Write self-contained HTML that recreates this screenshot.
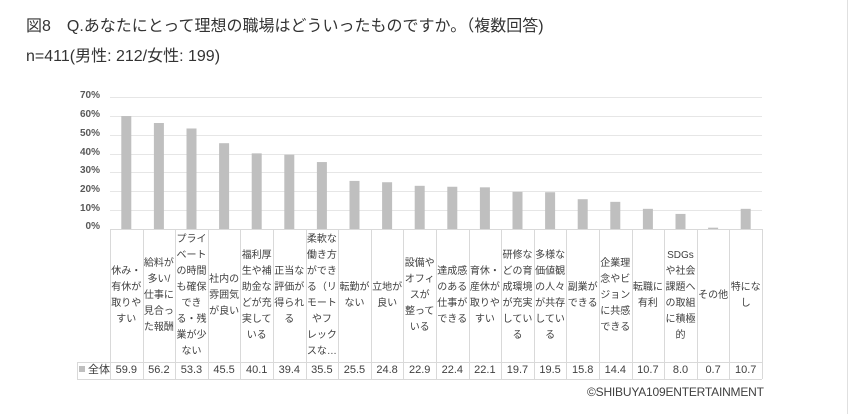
<!DOCTYPE html>
<html><head><meta charset="utf-8"><style>
body{margin:0;width:850px;height:414px;background:#fff;position:relative;overflow:hidden;font-family:"Liberation Sans","Noto Sans CJK JP",sans-serif;}
.t{position:absolute;left:26px;font-size:16px;color:#333;white-space:nowrap}
.lab{position:absolute;top:229px;height:133px;width:32.6px;display:flex;align-items:center;justify-content:center;text-align:center;font-size:10px;line-height:16px;color:#404040;box-sizing:border-box}
.val{position:absolute;top:362px;height:17px;width:32.6px;text-align:center;font-size:11px;line-height:17px;color:#404040}
.yl{position:absolute;left:60px;width:40px;text-align:right;font-size:10px;font-weight:bold;color:#595959}
</style></head><body>
<div class="t" style="top:12px">図8　Q.あなたにとって理想の職場はどういったものですか。（複数回答)</div>
<div class="t" style="top:42px">n=411(男性: 212/女性: 199)</div>
<div style="position:absolute;left:847px;top:0;width:1px;height:414px;background:#e0e0e0"></div>
<svg width="850" height="414" style="position:absolute;left:0;top:0">
<g stroke="#e6e6e6" stroke-width="1">
<line x1="110" x2="762" y1="97.5" y2="97.5"/><line x1="110" x2="762" y1="116.5" y2="116.5"/><line x1="110" x2="762" y1="135.5" y2="135.5"/><line x1="110" x2="762" y1="154.5" y2="154.5"/><line x1="110" x2="762" y1="172.5" y2="172.5"/><line x1="110" x2="762" y1="191.5" y2="191.5"/><line x1="110" x2="762" y1="210.5" y2="210.5"/>
</g>
<g fill="#bfbfbf" id="bars"></g>
<g stroke="#d9d9d9" stroke-width="1" id="grid"></g>
</svg>
<div class="yl" style="top:90px">70%</div><div class="yl" style="top:109px">60%</div><div class="yl" style="top:128px">50%</div><div class="yl" style="top:147px">40%</div><div class="yl" style="top:165px">30%</div><div class="yl" style="top:184px">20%</div><div class="yl" style="top:203px">10%</div><div class="yl" style="top:221px">0%</div>
<div id="c"></div>
<div style="position:absolute;left:79px;top:362px;height:17px;line-height:17px;font-size:11px;color:#404040"><span style="display:inline-block;width:6px;height:6px;background:#bfbfbf;margin-right:3px;vertical-align:1px"></span>全体</div>
<div style="position:absolute;left:587px;top:385px;font-size:12px;letter-spacing:-0.2px;color:#404040">©SHIBUYA109ENTERTAINMENT</div>
<script>
var L=["休み・<br>有休が<br>取りや<br>すい","給料が<br>多い/<br>仕事に<br>見合っ<br>た報酬","プライ<br>ベート<br>の時間<br>も確保<br>でき<br>る・残<br>業が少<br>ない","社内の<br>雰囲気<br>が良い","福利厚<br>生や補<br>助金な<br>どが充<br>実して<br>いる","正当な<br>評価が<br>得られ<br>る","柔軟な<br>働き方<br>ができ<br>る（リ<br>モート<br>やフ<br>レック<br>スな…","転勤が<br>ない","立地が<br>良い","設備や<br>オフィ<br>スが<br>整って<br>いる","達成感<br>のある<br>仕事が<br>できる","育休・<br>産休が<br>取りや<br>すい","研修な<br>どの育<br>成環境<br>が充実<br>してい<br>る","多様な<br>価値観<br>の人々<br>が共存<br>してい<br>る","副業が<br>できる","企業理<br>念やビ<br>ジョン<br>に共感<br>できる","転職に<br>有利","SDGs<br>や社会<br>課題へ<br>の取組<br>に積極<br>的","その他","特にな<br>し"];
var V=[59.9,56.2,53.3,45.5,40.1,39.4,35.5,25.5,24.8,22.9,22.4,22.1,19.7,19.5,15.8,14.4,10.7,8.0,0.7,10.7];
var w=32.6,x0=110,h="",b="",g="";
for(var i=0;i<20;i++){var x=x0+i*w;
h+='<div class="lab" style="left:'+x+'px">'+L[i]+'</div><div class="val" style="left:'+x+'px">'+V[i].toFixed(1)+'</div>';
var bh=V[i]*1.886;b+='<rect x="'+(x+11.3)+'" y="'+(229-bh)+'" width="10" height="'+bh+'"/>';}
for(var i=0;i<=20;i++){var x=Math.round(x0+i*w)+0.5;g+='<line x1="'+x+'" x2="'+x+'" y1="229" y2="379"/>';}
g+='<line x1="110" x2="762" y1="229.5" y2="229.5"/><line x1="77" x2="762" y1="362.5" y2="362.5"/><line x1="77" x2="762" y1="379.5" y2="379.5"/><line x1="77.5" x2="77.5" y1="362" y2="379"/>';
document.getElementById('c').innerHTML=h;document.getElementById('bars').innerHTML=b;document.getElementById('grid').innerHTML=g;
</script>
</body></html>
